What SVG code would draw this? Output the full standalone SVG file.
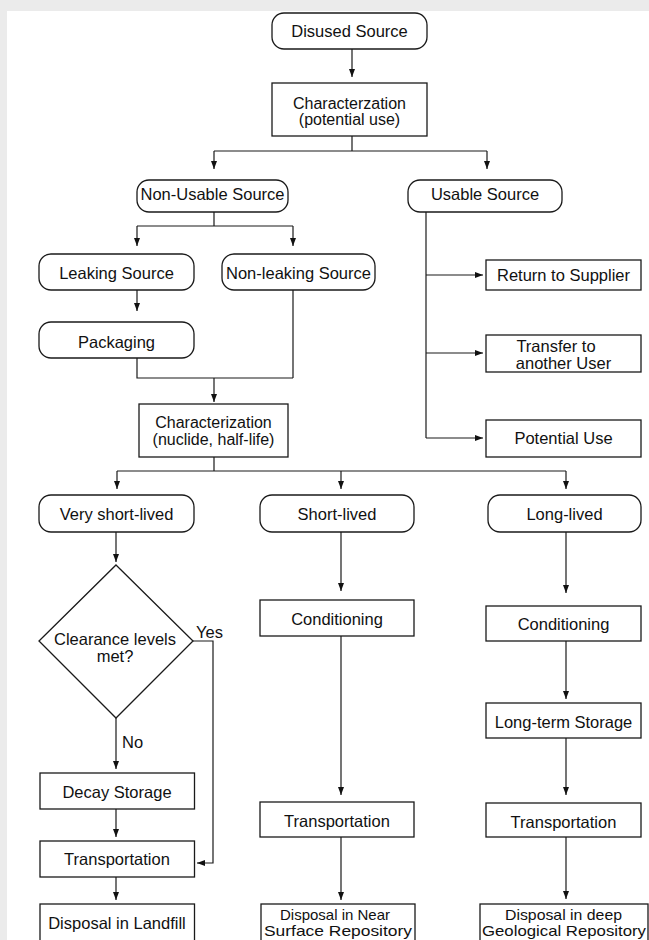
<svg xmlns="http://www.w3.org/2000/svg" width="649" height="940" viewBox="0 0 649 940">
<defs>
<marker id="ah" viewBox="0 0 8 6" refX="8" refY="3" markerWidth="8" markerHeight="6" markerUnits="userSpaceOnUse" orient="auto">
<path d="M0,0 L8,3 L0,6 z" fill="#111"/>
</marker>
<style>
.bx{fill:#fff;stroke:#1a1a1a;stroke-width:1.3}
.t{font-family:"Liberation Sans",Arial,sans-serif;font-size:16.5px;fill:#111;text-anchor:middle}
.t2{font-family:"Liberation Sans",Arial,sans-serif;font-size:16px;fill:#111;text-anchor:middle}
.t3{font-family:"Liberation Sans",Arial,sans-serif;font-size:14.5px;fill:#111;text-anchor:middle}
.tl{font-family:"Liberation Sans",Arial,sans-serif;font-size:16.5px;fill:#111}
.c{fill:none;stroke:#1a1a1a;stroke-width:1.2}
.a{fill:none;stroke:#1a1a1a;stroke-width:1.2;marker-end:url(#ah)}
</style>
</defs>
<rect x="0" y="0" width="649" height="940" fill="#ebebeb"/>
<rect x="7" y="11" width="642" height="929" fill="#fff"/>

<g id="connectors">
<path class="a" d="M352,49 V77"/>
<path class="c" d="M352,136 V151 M214,151 H487"/>
<path class="a" d="M214,151 V169"/>
<path class="a" d="M487,151 V169"/>
<path class="c" d="M214,212 V226 M137,226 H293"/>
<path class="a" d="M137,226 V246"/>
<path class="a" d="M293,226 V246"/>
<path class="a" d="M137,290 V311"/>
<path class="c" d="M137,358 V378 H293 M293,290 V378"/>
<path class="a" d="M214,378 V402"/>
<path class="c" d="M426,212 V438"/>
<path class="a" d="M426,275 H483"/>
<path class="a" d="M426,353 H483"/>
<path class="a" d="M426,438 H483"/>
<path class="c" d="M214,457 V471 M117,471 H566"/>
<path class="a" d="M117,471 V489"/>
<path class="a" d="M341,471 V489"/>
<path class="a" d="M566,471 V489"/>
<path class="a" d="M116,532 V562"/>
<path class="a" d="M116,718 V769"/>
<path class="a" d="M193,641 H213 V863 H197"/>
<path class="a" d="M116,809 V837"/>
<path class="a" d="M116,877 V900"/>
<path class="a" d="M341,532 V591"/>
<path class="a" d="M341,636 V795"/>
<path class="a" d="M341,837 V900"/>
<path class="a" d="M566,532 V593"/>
<path class="a" d="M566,641 V699"/>
<path class="a" d="M566,738 V795"/>
<path class="a" d="M566,837 V899"/>
<text class="tl" x="196" y="638">Yes</text>
<text class="tl" x="122" y="748">No</text>
</g>

<g id="disused"><rect class="bx" x="272" y="13" width="155" height="36" rx="12"/><text class="t" x="349.5" y="37">Disused Source</text></g>
<g id="char1"><rect class="bx" x="272" y="83" width="155" height="53"/><text class="t2" x="349.5" y="108.7">Characterzation</text><text class="t2" x="349.5" y="125.2">(potential use)</text></g>
<g id="nonusable"><rect class="bx" x="137" y="180" width="151" height="32" rx="12"/><text class="t" x="212.5" y="200.4">Non-Usable Source</text></g>
<g id="usable"><rect class="bx" x="408" y="180" width="154" height="32" rx="12"/><text class="t" x="485" y="200.4">Usable Source</text></g>
<g id="leaking"><rect class="bx" x="39" y="254" width="155" height="36" rx="12"/><text class="t" x="116.5" y="279">Leaking Source</text></g>
<g id="nonleaking"><rect class="bx" x="222" y="254" width="153" height="36" rx="12"/><text class="t" x="298.5" y="279">Non-leaking Source</text></g>
<g id="return"><rect class="bx" x="486" y="260" width="155" height="30"/><text class="t" x="563.5" y="281">Return to Supplier</text></g>
<g id="packaging"><rect class="bx" x="39" y="322" width="155" height="36" rx="12"/><text class="t" x="116.5" y="347.6">Packaging</text></g>
<g id="transfer"><rect class="bx" x="486" y="335" width="155" height="37"/><text class="t" x="556" y="352">Transfer to</text><text class="t" x="563.5" y="369.2">another User</text></g>
<g id="char2"><rect class="bx" x="139" y="404" width="149" height="53"/><text class="t2" x="213.5" y="428.4">Characterization</text><text class="t2" x="213.5" y="444.6">(nuclide, half-life)</text></g>
<g id="potential"><rect class="bx" x="486" y="420" width="155" height="37"/><text class="t" x="563.5" y="444.2">Potential Use</text></g>
<g id="veryshort"><rect class="bx" x="39" y="495" width="155" height="37" rx="12"/><text class="t" x="116.5" y="520.2">Very short-lived</text></g>
<g id="short"><rect class="bx" x="260" y="495" width="154" height="37" rx="12"/><text class="t" x="337" y="520.2">Short-lived</text></g>
<g id="long"><rect class="bx" x="488" y="495" width="153" height="37" rx="12"/><text class="t" x="564.5" y="520.2">Long-lived</text></g>
<g id="clearance"><polygon class="bx" points="116,565 193,641 116,718 39,641"/><text class="t" x="115" y="645.2">Clearance levels</text><text class="t" x="115" y="662">met?</text></g>
<g id="condshort"><rect class="bx" x="260" y="600" width="154" height="36"/><text class="t" x="337" y="625">Conditioning</text></g>
<g id="condlong"><rect class="bx" x="486" y="606" width="155" height="35"/><text class="t" x="563.5" y="630">Conditioning</text></g>
<g id="ltstorage"><rect class="bx" x="486" y="703" width="155" height="35"/><text class="t" x="563.5" y="727.6">Long-term Storage</text></g>
<g id="decay"><rect class="bx" x="40" y="773" width="154.5" height="36"/><text class="t" x="117" y="797.6">Decay Storage</text></g>
<g id="transleft"><rect class="bx" x="40" y="841" width="154.5" height="36"/><text class="t" x="117" y="865">Transportation</text></g>
<g id="transshort"><rect class="bx" x="260" y="802" width="154" height="35"/><text class="t" x="337" y="826.6">Transportation</text></g>
<g id="translong"><rect class="bx" x="486" y="803" width="155" height="34"/><text class="t" x="563.5" y="827.6">Transportation</text></g>
<g id="landfill"><rect class="bx" x="40" y="904" width="154.5" height="45"/><text class="t" x="117" y="929.2">Disposal in Landfill</text></g>
<g id="nearsurface"><rect class="bx" x="261" y="904" width="154" height="45"/><text class="t3" x="335" y="920" textLength="110" lengthAdjust="spacingAndGlyphs">Disposal in Near</text><text class="t3" x="338" y="935.5" textLength="148" lengthAdjust="spacingAndGlyphs">Surface Repository</text></g>
<g id="deepgeo"><rect class="bx" x="480" y="904" width="168" height="45"/><text class="t3" x="563.5" y="920" textLength="117" lengthAdjust="spacingAndGlyphs">Disposal in deep</text><text class="t3" x="564" y="935.5" textLength="164" lengthAdjust="spacingAndGlyphs">Geological Repository</text></g>
</svg>
